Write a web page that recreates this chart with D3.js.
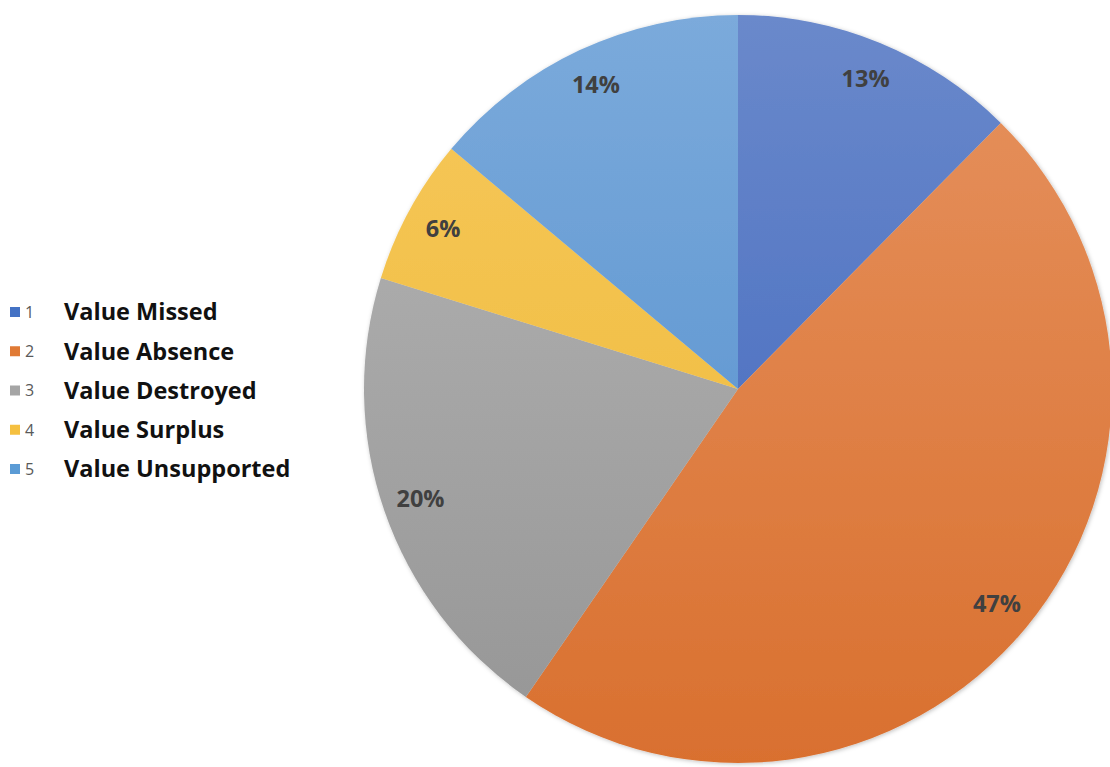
<!DOCTYPE html>
<html>
<head>
    <script src="https://d3js.org/d3.v7.min.js"></script>
    <style>
        body { margin: 0; background: #fff; font-family: "Open Sans", "Liberation Sans", Arial, sans-serif; }
    </style>
</head>
<body>
    <svg></svg>
    <script>
        const codes = ['1', '2', '3', '4', '5']
        const names = ['Value Missed', 'Value Absence', 'Value Destroyed', 'Value Surplus', 'Value Unsupported']
        // slice shares as drawn, and the percent labels as printed
        const shares = [12.4, 47.2, 20.2, 6.3, 13.9]
        const pctLabels = ['13%', '47%', '20%', '6%', '14%']
        const colors = ['#4472c4', '#e07a35', '#a5a5a5', '#f5c040', '#5b9bd5']
        const topColors = ['#6a89cb', '#e6925f', '#b6b6b6', '#f7c85a', '#7baadb']
        const bottomColors = ['#3b62bc', '#d9702f', '#959595', '#ecb838', '#4f8ccc']

        const width = 1110,
              height = 767,
              cx = 738,
              cy = 389,
              radius = 374

        const svg = d3.select('svg')
            .attr('width', width)
            .attr('height', height)

        const defs = svg.append('defs')
        const shadow = defs.append('filter').attr('id', 'shadow')
            .attr('x', '-10%').attr('y', '-10%').attr('width', '120%').attr('height', '120%')
        shadow.append('feDropShadow').attr('dx', 1).attr('dy', 1).attr('stdDeviation', 2)
            .attr('flood-color', '#000').attr('flood-opacity', 0.25)

        colors.forEach((c, i) => {
            const grad = defs.append('linearGradient')
                .attr('id', 'grad' + i)
                .attr('gradientUnits', 'userSpaceOnUse')
                .attr('x1', 0).attr('y1', -radius)
                .attr('x2', 0).attr('y2', radius)
            grad.append('stop').attr('offset', '0%').attr('stop-color', topColors[i])
            grad.append('stop').attr('offset', '100%').attr('stop-color', bottomColors[i])
        })

        const pie = d3.pie().sort(null).value(d => d)
        const arcs = pie(shares)
        const arc = d3.arc().innerRadius(0).outerRadius(radius)
        const labelArc = d3.arc().innerRadius(336).outerRadius(336)

        const pg = svg.append('g')
            .attr('transform', 'translate(' + cx + ',' + cy + ')')

        pg.append('g').attr('filter', 'url(#shadow)')
            .selectAll('path')
            .data(arcs)
            .enter().append('path')
            .attr('d', arc)
            .style('fill', (d, i) => 'url(#grad' + i + ')')

        pg.selectAll('text')
            .data(arcs)
            .enter().append('text')
            .attr('transform', d => 'translate(' + labelArc.centroid(d) + ')')
            .attr('text-anchor', 'middle')
            .attr('dy', '0.36em')
            .style('font-size', '23.5px')
            .style('font-weight', 'bold')
            .style('fill', '#404040')
            .text((d, i) => pctLabels[i])

        // legend
        const legend = svg.append('g')
        const rowY = d3.scalePoint().domain(codes).range([312, 469])

        const row = legend.selectAll('g')
            .data(codes)
            .enter().append('g')
            .attr('transform', d => 'translate(0,' + rowY(d) + ')')

        row.append('rect')
            .attr('x', 10).attr('y', -5)
            .attr('width', 10).attr('height', 10)
            .style('fill', (d, i) => colors[i])

        row.append('text')
            .attr('x', 25).attr('dy', '0.36em')
            .style('font-size', '16px')
            .style('fill', '#595959')
            .text(d => d)

        row.append('text')
            .attr('x', 64).attr('dy', '0.36em')
            .style('font-size', '23.5px')
            .style('font-weight', 'bold')
            .style('fill', '#111')
            .text((d, i) => names[i])
    </script>
</body>
</html>
